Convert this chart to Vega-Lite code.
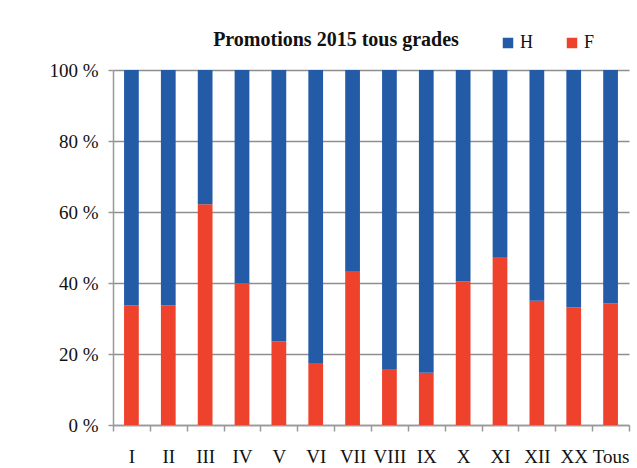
{
  "$schema": "https://vega.github.io/schema/vega-lite/v6.json",
  "width": 516,
  "height": 355,
  "autosize": "none",
  "padding": {"left": 113, "top": 70, "right": 8, "bottom": 43},
  "background": "white",
  "title": {"text": "Promotions 2015 tous grades", "font": "Liberation Serif", "fontSize": 20, "fontWeight": "bold", "color": "#111111", "anchor": "middle", "dx": -35, "offset": -16},
  "data": {"values": [
    {"grade": "I", "sexe": "F", "pct": 33.7}, {"grade": "I", "sexe": "H", "pct": 66.3},
    {"grade": "II", "sexe": "F", "pct": 33.7}, {"grade": "II", "sexe": "H", "pct": 66.3},
    {"grade": "III", "sexe": "F", "pct": 62.2}, {"grade": "III", "sexe": "H", "pct": 37.8},
    {"grade": "IV", "sexe": "F", "pct": 40.0}, {"grade": "IV", "sexe": "H", "pct": 60.0},
    {"grade": "V", "sexe": "F", "pct": 23.5}, {"grade": "V", "sexe": "H", "pct": 76.5},
    {"grade": "VI", "sexe": "F", "pct": 17.5}, {"grade": "VI", "sexe": "H", "pct": 82.5},
    {"grade": "VII", "sexe": "F", "pct": 43.4}, {"grade": "VII", "sexe": "H", "pct": 56.6},
    {"grade": "VIII", "sexe": "F", "pct": 15.8}, {"grade": "VIII", "sexe": "H", "pct": 84.2},
    {"grade": "IX", "sexe": "F", "pct": 14.7}, {"grade": "IX", "sexe": "H", "pct": 85.3},
    {"grade": "X", "sexe": "F", "pct": 40.5}, {"grade": "X", "sexe": "H", "pct": 59.5},
    {"grade": "XI", "sexe": "F", "pct": 47.3}, {"grade": "XI", "sexe": "H", "pct": 52.7},
    {"grade": "XII", "sexe": "F", "pct": 35.0}, {"grade": "XII", "sexe": "H", "pct": 65.0},
    {"grade": "XX", "sexe": "F", "pct": 33.2}, {"grade": "XX", "sexe": "H", "pct": 66.8},
    {"grade": "Tous", "sexe": "F", "pct": 34.3}, {"grade": "Tous", "sexe": "H", "pct": 65.7}
  ]},
  "mark": {"type": "bar", "width": {"band": 0.4}},
  "encoding": {
    "x": {
      "field": "grade", "type": "nominal", "sort": null,
      "scale": {"paddingInner": 0, "paddingOuter": 0},
      "axis": {"title": null, "labelAngle": 0, "tickBand": "extent", "grid": false,
        "domainColor": "#999999", "domainWidth": 1.5, "tickColor": "#999999", "tickWidth": 1.5, "tickSize": 6,
        "labelPadding": 16, "labelFont": "Liberation Serif", "labelFontSize": 19, "labelColor": "#111111"}
    },
    "y": {
      "field": "pct", "type": "quantitative", "stack": "zero",
      "scale": {"domain": [0, 100]},
      "axis": {"title": null, "values": [0, 20, 40, 60, 80, 100], "labelExpr": "datum.value + ' %'",
        "grid": true, "gridColor": "#8e8e8e", "gridWidth": 1.5,
        "domainColor": "#999999", "domainWidth": 1.5, "tickColor": "#999999", "tickWidth": 1.5, "tickSize": 5,
        "labelPadding": 10, "labelFont": "Liberation Serif", "labelFontSize": 19, "labelColor": "#111111"}
    },
    "color": {
      "field": "sexe", "type": "nominal",
      "scale": {"domain": ["H", "F"], "range": ["#245BA7", "#EF422D"]},
      "legend": {"title": null, "orient": "none", "direction": "horizontal", "legendX": 386, "legendY": -36,
        "symbolType": "square", "symbolSize": 110, "symbolStrokeWidth": 0, "symbolOpacity": 1,
        "labelFont": "Liberation Serif", "labelFontSize": 18, "labelColor": "#111111", "labelOffset": 3, "columnPadding": 30}
    },
    "order": {"field": "sexe", "sort": "ascending"}
  },
  "config": {"view": {"stroke": null}}
}
